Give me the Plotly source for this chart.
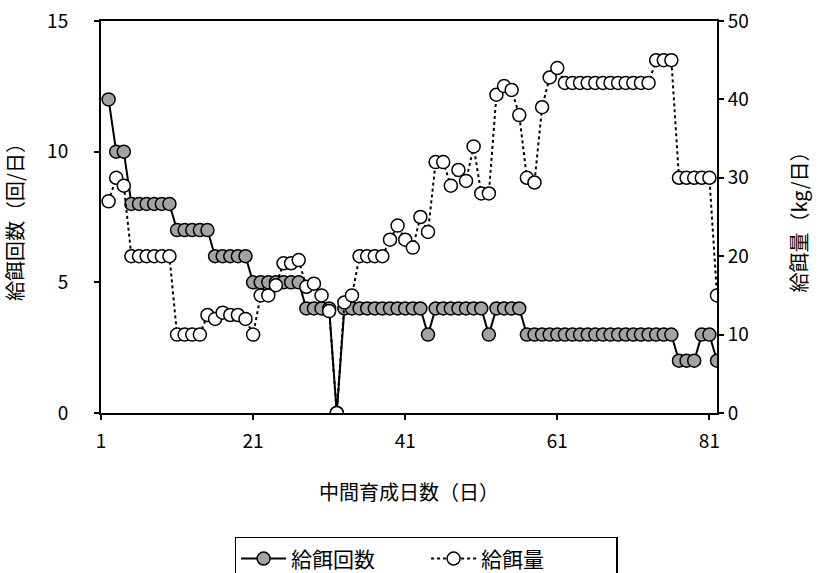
import plotly.graph_objects as go

days = list(range(2, 83))

feeding_count = (
    [12] + [10]*2 + [8]*6 + [7]*5 + [6]*5 + [5]*7 + [4]*4 + [0] + [4]*11 + [3]
    + [4]*7 + [3] + [4]*4 + [3]*20 + [2]*3 + [3]*2 + [2]
)

feeding_amount = (
    [27, 30, 29] + [20]*6 + [10]*4
    + [12.5, 12, 12.8, 12.5, 12.5, 12]
    + [10, 15, 15, 16.3, 19.1, 19.1, 19.5, 16.1, 16.5, 15, 13, 0, 14.1, 15]
    + [20]*4
    + [22.1, 23.9, 22.1, 21.1, 25, 23.1]
    + [32, 32, 29, 31, 29.6, 34, 28, 28]
    + [40.6, 41.7, 41.2, 38]
    + [30, 29.4, 39, 42.8, 44]
    + [42.1]*12 + [45]*3 + [30]*5 + [15]
)

x_ticks = [1, 21, 41, 61, 81]

FONT = "Noto Sans CJK JP"

fig = go.Figure()
fig.add_trace(go.Scatter(
    x=days, y=feeding_count, name="給餌回数", mode="lines+markers",
    line=dict(color="black", width=2),
    marker=dict(size=13, color="#a3a3a3", line=dict(color="black", width=1.5)),
    yaxis="y",
))
fig.add_trace(go.Scatter(
    x=days, y=feeding_amount, name="給餌量", mode="lines+markers",
    line=dict(color="black", width=2, dash="dot"),
    marker=dict(size=13, color="white", line=dict(color="black", width=1.5)),
    yaxis="y2",
))

axis_common = dict(
    showline=True, linecolor="black", linewidth=2,
    ticks="outside", ticklen=5, tickwidth=1.5, tickcolor="black",
    showgrid=False, zeroline=False, automargin=False,
    ticklabeloverflow="allow",
    tickfont=dict(family=FONT, size=19, color="black"),
)

fig.update_layout(
    width=821, height=573,
    margin=dict(l=101, r=104, t=21, b=160),
    paper_bgcolor="white", plot_bgcolor="white",
    font=dict(family=FONT, color="black"),
    xaxis=dict(
        range=[1, 82], tickvals=x_ticks, ticktext=[str(v) for v in x_ticks],
        title=dict(text="中間育成日数（日）", font=dict(family=FONT, size=20), standoff=34),
        ticklabelstandoff=5, mirror=True,
        **axis_common,
    ),
    yaxis=dict(
        range=[0, 15], tickvals=[0, 5, 10, 15],
        title=dict(text="給餌回数（回/日）", font=dict(family=FONT, size=20), standoff=22),
        ticklabelstandoff=22,
        **axis_common,
    ),
    yaxis2=dict(
        range=[0, 50], tickvals=[0, 10, 20, 30, 40, 50],
        overlaying="y", side="right",
        title=dict(text="給餌量（kg/日）", font=dict(family=FONT, size=20), standoff=45),
        **axis_common,
    ),
    showlegend=True,
    legend=dict(
        orientation="h", xref="container", yref="container",
        x=0.519, xanchor="center", y=0.063, yanchor="top",
        bordercolor="black", borderwidth=1.5, bgcolor="white",
        font=dict(family=FONT, size=21), itemwidth=45,
        entrywidth=130, entrywidthmode="pixels",
    ),
)

fig.write_html("out.html", config={"displayModeBar": False},
               post_script="document.body.style.margin='0px';")
